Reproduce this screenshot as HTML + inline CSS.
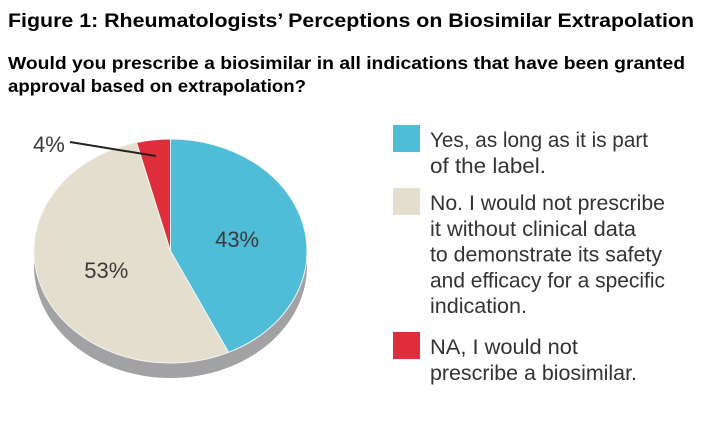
<!DOCTYPE html>
<html><head><meta charset="utf-8"><style>
body{margin:0;background:#fff;width:709px;height:427px;overflow:hidden;font-family:"Liberation Sans",sans-serif}
</style></head><body>
<svg width="709" height="427">
<text x="8" y="27" font-size="19.5" font-weight="bold" fill="#000" textLength="686" lengthAdjust="spacingAndGlyphs">Figure 1: Rheumatologists’ Perceptions on Biosimilar Extrapolation</text>
<text x="8" y="69" font-size="17.5" font-weight="bold" fill="#000" textLength="677" lengthAdjust="spacingAndGlyphs">Would you prescribe a biosimilar in all indications that have been granted</text>
<text x="8" y="92" font-size="17.5" font-weight="bold" fill="#000" textLength="298" lengthAdjust="spacingAndGlyphs">approval based on extrapolation?</text>
<g id="pie"></g>
<g id="legend"></g>
</svg>
<script>
const categories=["Yes","No","NA"];
const values=[43,53,4];
const valueLabels=["43%","53%","4%"];
const colors=["#4fbcd8","#e3decd","#de2d3b"];
const legendLines=[["Yes, as long as it is part","of the label."],["No. I would not prescribe","it without clinical data","to demonstrate its safety","and efficacy for a specific","indication."],["NA, I would not","prescribe a biosimilar."]];
const legendWidths=[[218,116],[235,206,232,235,97],[148,207]];
const NS="http://www.w3.org/2000/svg";
const cx=170.5,cy=251,rx=136.5,ry=112,depth=15;
const pie=document.getElementById('pie');
function pt(a){return [cx+rx*Math.sin(a),cy-ry*Math.cos(a)];}
const total=values.reduce((a,b)=>a+b,0);
const side=document.createElementNS(NS,'path');


side.setAttribute('d',`M${cx-rx},${cy} A${rx},${ry} 0 0 0 ${cx+rx},${cy} L${cx+rx},${cy+depth} A${rx},${ry} 0 0 1 ${cx-rx},${cy+depth} Z`);
side.setAttribute('fill','#a2a2a5');
pie.appendChild(side);
let acc=0;
values.forEach((v,i)=>{
  const a0=acc/total*2*Math.PI; acc+=v; const a1=acc/total*2*Math.PI;
  const p0=pt(a0),p1=pt(a1);
  const large=(a1-a0)>Math.PI?1:0;
  const p=document.createElementNS(NS,'path');
  
  
  p.setAttribute('d',`M${cx},${cy} L${p0[0]},${p0[1]} A${rx},${ry} 0 ${large} 1 ${p1[0]},${p1[1]} Z`);
  p.setAttribute('fill',colors[i]);p.setAttribute('stroke','#f4f4f4');p.setAttribute('stroke-width','1');
  pie.appendChild(p);
  const mid=(a0+a1)/2;
  let lx,ly;
  const t=document.createElementNS(NS,'text');
  if(v<10){lx=33;ly=152;
    const l=document.createElementNS(NS,'line');
    const ex=cx+(rx*0.855)*Math.sin(mid),ey=cy-(ry*0.855)*Math.cos(mid);
    
    
    l.setAttribute('x1',70);l.setAttribute('y1',142);l.setAttribute('x2',ex);l.setAttribute('y2',ey);
    l.setAttribute('stroke','#222');l.setAttribute('stroke-width','2');
    pie.appendChild(l);
  } else {lx=cx+rx*0.5*Math.sin(mid);ly=cy-ry*0.5*Math.cos(mid)+8;t.setAttribute('text-anchor','middle');}
  
  
  t.setAttribute('x',lx);t.setAttribute('y',ly);t.setAttribute('font-size','22');t.setAttribute('fill','#3a3a3a');
  t.textContent=valueLabels[i];pie.appendChild(t);
});
const lg=document.getElementById('legend');
const boxY=[125,188,332];
legendLines.forEach((lines,i)=>{
  const r=document.createElementNS(NS,'rect');
  
  
  r.setAttribute('x',393);r.setAttribute('y',boxY[i]);r.setAttribute('width',27);r.setAttribute('height',27);r.setAttribute('fill',colors[i]);
  lg.appendChild(r);
  lines.forEach((s,j)=>{
    const t=document.createElementNS(NS,'text');
    
    
    t.setAttribute('x',430);t.setAttribute('y',boxY[i]+22+j*25.8);t.setAttribute('font-size','21');t.setAttribute('fill','#333');
    t.setAttribute('textLength',legendWidths[i][j]);t.setAttribute('lengthAdjust','spacingAndGlyphs');
    t.textContent=s;lg.appendChild(t);
  });
});
</script>
</body></html>
